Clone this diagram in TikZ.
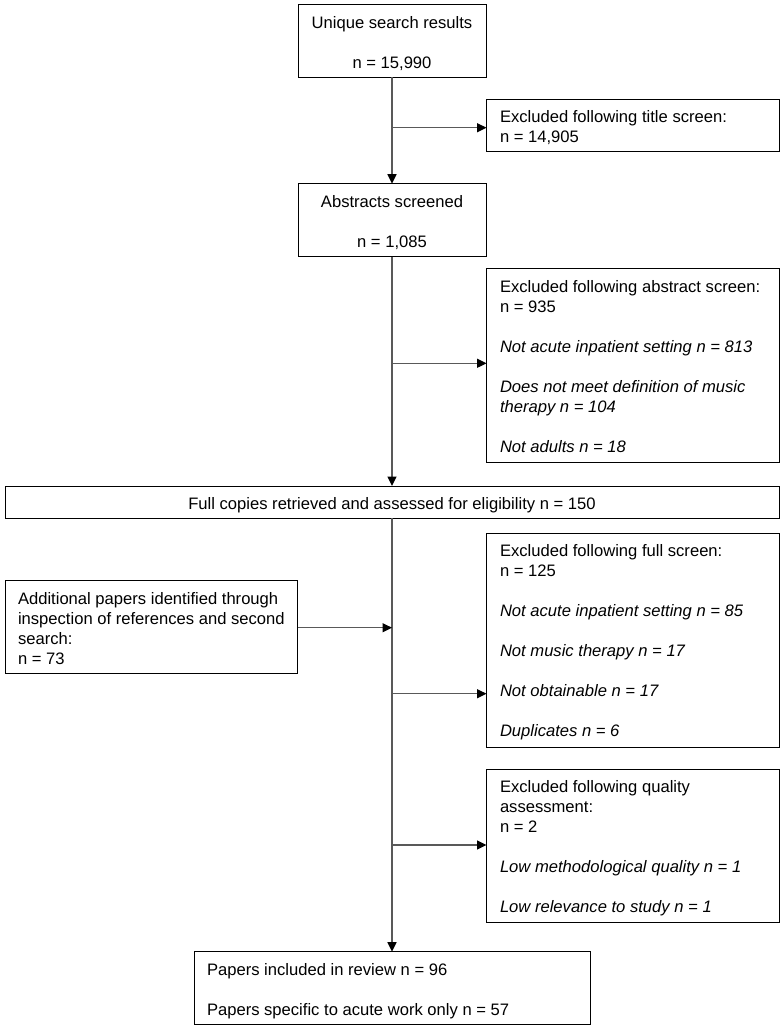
\documentclass[tikz,border=0pt]{standalone}
\usepackage{fontspec}
\setmainfont{Liberation Sans}
\usetikzlibrary{arrows.meta}
\begin{document}
\begin{tikzpicture}[x=1pt,y=-1pt,
  boxst/.style={draw=black, line width=1pt, rectangle, inner sep=0pt, outer sep=0pt, anchor=north west},
  txt/.style={inner sep=0pt, outer sep=0pt, font=\fontsize{16.6}{20}\selectfont, align=left, anchor=north west, text=black},
  ctxt/.style={txt, align=center, anchor=north},
  conn/.style={draw=black!65, line width=1.3pt},
  arr/.style={conn, -{Triangle[length=9.5pt,width=9pt,black]}}
]
\useasboundingbox[fill=white] (0,0) rectangle (784,1029);

% boxes
\node[boxst, minimum width=188pt, minimum height=73pt] (b1) at (298,4.3) {};
\node[boxst, minimum width=292.5pt, minimum height=52.7pt] (tbox) at (486.5,99) {};
\node[boxst, minimum width=188pt, minimum height=73pt] (abs) at (298,183.7) {};
\node[boxst, minimum width=292.5pt, minimum height=194pt] (absx) at (486.5,268.7) {};
\node[boxst, minimum width=774pt, minimum height=32.3pt] (fc) at (5,486) {};
\node[boxst, minimum width=292.5pt, minimum height=214pt] (fsx) at (486.5,533.3) {};
\node[boxst, minimum width=292.5pt, minimum height=93.4pt] (add) at (5,580.3) {};
\node[boxst, minimum width=292.5pt, minimum height=153.4pt] (qual) at (486.5,769.3) {};
\node[boxst, minimum width=396pt, minimum height=72.3pt] (pap) at (194,951.7) {};

% texts
\node[ctxt] (b1t) at (392,14.7) {\strut Unique search results\\[20pt] n = 15,990};
\node[txt] (tboxt) at (500,108.7) {\strut Excluded following title screen:\\ n = 14,905};
\node[ctxt] (abst) at (392,193.7) {\strut Abstracts screened\\[20pt] n = 1,085};
\node[txt] (absxt) at (500,278.7) {\strut Excluded following abstract screen:\\ n = 935\\[20pt]
  \itshape Not acute inpatient setting n = 813\\[20pt]
  \itshape Does not meet definition of music\\ \itshape therapy n = 104\\[20pt]
  \itshape Not adults n = 18};
\node[txt, anchor=base] (fct) at (392,509.3) {Full copies retrieved and assessed for eligibility n = 150};
\node[txt] (fsxt) at (500,542.7) {\strut Excluded following full screen:\\ n = 125\\[20pt]
  \itshape Not acute inpatient setting n = 85\\[20pt]
  \itshape Not music therapy n = 17\\[20pt]
  \itshape Not obtainable n = 17\\[20pt]
  \itshape Duplicates n = 6};
\node[txt] (addt) at (18,590.3) {\strut Additional papers identified through\\ inspection of references and second\\ search:\\ n = 73};
\node[txt] (qualt) at (500,778.7) {\strut Excluded following quality\\ assessment:\\ n = 2\\[20pt]
  \itshape Low methodological quality n = 1\\[20pt]
  \itshape Low relevance to study n = 1};
\node[txt] (papt) at (207,961.3) {\strut Papers included in review n = 96\\[20pt] Papers specific to acute work only n = 57};

% junctions
\coordinate (j1) at (392,127.7);
\coordinate (j2) at (392,363.3);
\coordinate (j3) at (392,627.7);
\coordinate (j4) at (392,693.7);
\coordinate (j5) at (392,845);

% connectors
\draw[arr] (b1.south) -- (abs.north);
\draw[arr] (j1) -- (j1 -| tbox.west);
\draw[arr] (abs.south) -- (fc.north);
\draw[arr] (j2) -- (j2 -| absx.west);
\draw[arr] (fc.south) -- (pap.north);
\draw[arr] (j3 -| add.east) -- (j3);
\draw[arr] (j4) -- (j4 -| fsx.west);
\draw[arr] (j5) -- (j5 -| qual.west);
\end{tikzpicture}
\end{document}
